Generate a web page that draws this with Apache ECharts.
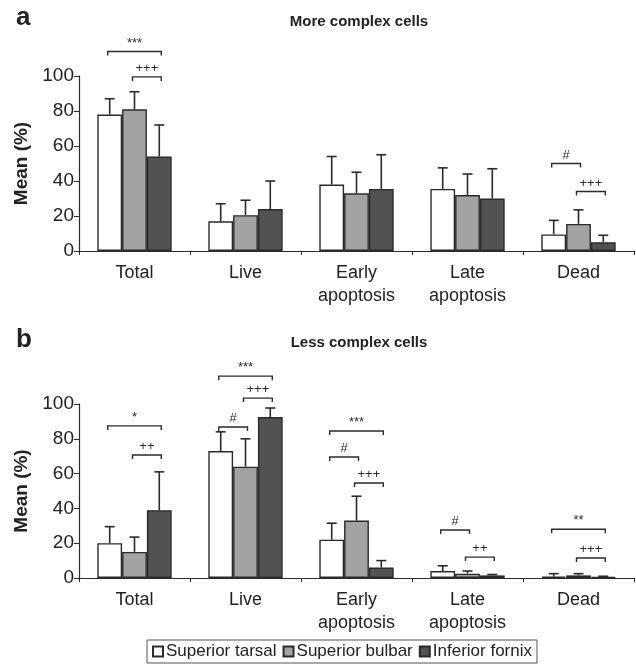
<!DOCTYPE html>
<html>
<head>
<meta charset="utf-8">
<script src="https://cdn.jsdelivr.net/npm/echarts@6/dist/echarts.min.js"></script>
<style>
  html, body { margin: 0; padding: 0; background: #fff; }
  #main { width: 636px; height: 671px; }
</style>
</head>
<body>
<div id="main"></div>
<script>
var categories = ['Total', 'Live', 'Early\napoptosis', 'Late\napoptosis', 'Dead'];
var groups = ['Superior tarsal', 'Superior bulbar', 'Inferior fornix'];
var yTicks = [0, 20, 40, 60, 80, 100];

// panel a - more complex cells (mean, top of error bar) per group
var moreMean = [[78, 17, 38, 35.5, 9.5], [81, 20.5, 33, 32, 15.5], [54, 24, 35.5, 30, 5]];
var moreUpper = [[87, 27, 54, 47.5, 17.5], [91, 29, 45, 44, 23.5], [72, 40, 55, 47, 9]];
// panel b - less complex cells
var lessMean = [[20, 73, 22, 4, 0.8], [15, 64, 33, 2.5, 1.5], [39, 92.5, 6, 1.5, 0.5]];
var lessUpper = [[29.5, 84, 31.5, 7, 2.5], [23.5, 80, 47, 4, 2.5], [61, 97.7, 10, 2, 1]];

// significance brackets: [category, from group, to group, level, mark]
var moreSig = [[0, 0, 2, 114, '***'], [0, 1, 2, 99.5, '+++'], [4, 0, 1, 50, '#'], [4, 1, 2, 34, '+++']];
var lessSig = [
  [0, 0, 2, 87.4, '*'], [0, 1, 2, 70.7, '++'],
  [1, 0, 2, 116, '***'], [1, 1, 2, 103.4, '+++'], [1, 0, 1, 86.8, '#'],
  [2, 0, 2, 84.5, '***'], [2, 0, 1, 69.5, '#'], [2, 1, 2, 54.6, '+++'],
  [3, 0, 1, 27.6, '#'], [3, 1, 2, 12, '++'],
  [4, 0, 2, 28, '**'], [4, 1, 2, 11.5, '+++']
];

var colors = ['#ffffff', '#a3a3a3', '#525252'];
var ink = '#2b2b2b';
var fontFam = '"Liberation Sans", Arial, sans-serif';
var barFrac = 0.67;

function barX(api, cat, s) {
  var p = api.coord([cat, 0]);
  var w = api.size([1, 0])[0] * barFrac / 3;
  return p[0] + (s - 1) * w;
}

function errorItem(params, api) {
  var cat = api.value(0), s = api.value(1);
  var x = barX(api, cat, s);
  var y0 = api.coord([cat, api.value(2)])[1];
  var y1 = api.coord([cat, api.value(3)])[1];
  var st = { stroke: ink, lineWidth: 1.6 };
  return {
    type: 'group',
    children: [
      { type: 'line', shape: { x1: x, y1: y0, x2: x, y2: y1 }, style: st },
      { type: 'line', shape: { x1: x - 5, y1: y1, x2: x + 5, y2: y1 }, style: st }
    ]
  };
}

function sigItem(params, api) {
  var cat = api.value(0);
  var xa = barX(api, cat, api.value(1)) - 2;
  var xb = barX(api, cat, api.value(2)) + 2;
  var y = api.coord([cat, api.value(3)])[1];
  var st = { stroke: ink, lineWidth: 1.4, fill: null };
  return {
    type: 'group',
    children: [
      { type: 'polyline', shape: { points: [[xa, y + 4], [xa, y], [xb, y], [xb, y + 4]] }, style: st },
      { type: 'text', style: { text: api.value(4), x: (xa + xb) / 2, y: y - 2, align: 'center', verticalAlign: 'bottom',
        fill: ink, fontSize: 13, fontFamily: fontFam } }
    ]
  };
}

function errData(mean, upper, s) {
  return mean[s].map(function (v, i) { return [i, s, v, upper[s][i]]; });
}

var chart = echarts.init(document.getElementById('main'));

var grids = [
  { left: 79, width: 555, top: 76, height: 175 },
  { left: 79, width: 555, top: 404, height: 174 }
];

function xAxis(gi) {
  return {
    type: 'category', gridIndex: gi, data: categories,
    axisLine: { lineStyle: { color: ink, width: 1.2 } },
    axisTick: { show: true, length: 4, lineStyle: { color: ink } },
    axisLabel: { color: '#222', fontSize: 18, fontFamily: fontFam, margin: 11, lineHeight: 23, interval: 0 }
  };
}
function yAxis(gi) {
  return {
    type: 'value', gridIndex: gi, min: yTicks[0], max: yTicks[yTicks.length - 1], interval: 20,
    name: 'Mean (%)', nameLocation: 'middle', nameGap: 47,
    nameTextStyle: { color: '#222', fontSize: 19, fontWeight: 'bold', fontFamily: fontFam },
    axisLine: { show: true, lineStyle: { color: ink, width: 1.2 } },
    axisTick: { show: true, length: 5, lineStyle: { color: ink } },
    axisLabel: { color: '#222', fontSize: 19, fontFamily: fontFam, margin: 5 },
    splitLine: { show: false }
  };
}

var series = [];
[[moreMean, moreUpper, moreSig], [lessMean, lessUpper, lessSig]].forEach(function (panel, gi) {
  groups.forEach(function (g, s) {
    series.push({
      name: g, type: 'bar', xAxisIndex: gi, yAxisIndex: gi,
      data: panel[0][s], barGap: '0%', barCategoryGap: '33%',
      itemStyle: { color: colors[s], borderColor: ink, borderWidth: 1.4 },
      silent: true
    });
  });
  groups.forEach(function (g, s) {
    series.push({
      type: 'custom', xAxisIndex: gi, yAxisIndex: gi, renderItem: errorItem,
      data: errData(panel[0], panel[1], s), encode: { x: 0, y: 3 }, z: 5, silent: true, clip: false
    });
  });
  series.push({
    type: 'custom', xAxisIndex: gi, yAxisIndex: gi, renderItem: sigItem,
    data: panel[2], encode: { x: 0, y: 3 }, z: 6, silent: true, clip: false
  });
});

chart.setOption({
  animation: false,
  textStyle: { fontFamily: fontFam },
  title: [
    { text: 'a', left: 11, top: 0, textStyle: { fontSize: 26, fontWeight: 'bold', color: '#222' } },
    { text: 'More complex cells', left: 354, top: 9, textAlign: 'center', textStyle: { fontSize: 15, fontWeight: 'bold', color: '#222' } },
    { text: 'b', left: 11, top: 322, textStyle: { fontSize: 26, fontWeight: 'bold', color: '#222' } },
    { text: 'Less complex cells', left: 354, top: 330, textAlign: 'center', textStyle: { fontSize: 15, fontWeight: 'bold', color: '#222' } }
  ],
  legend: {
    data: groups, left: 147, top: 640, icon: 'rect', itemWidth: 10, itemHeight: 10, itemGap: 6,
    borderColor: '#555', borderWidth: 1, padding: [3, 5], borderRadius: 0,
    textStyle: { fontSize: 17, color: '#222', fontFamily: fontFam, padding: [0, 0, 0, -2] }
  },
  grid: grids,
  xAxis: [xAxis(0), xAxis(1)],
  yAxis: [yAxis(0), yAxis(1)],
  series: series
});
</script>
</body>
</html>
